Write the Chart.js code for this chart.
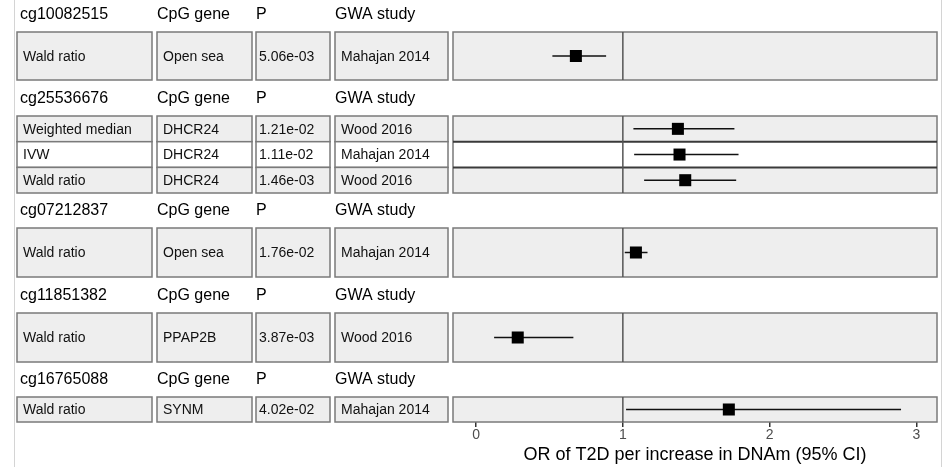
<!DOCTYPE html>
<html><head><meta charset="utf-8">
<script src="https://cdn.jsdelivr.net/npm/chart.js@4"></script>
<style>html,body{margin:0;padding:0;background:#fff}#wrap{width:943px;height:467px;position:relative}</style>
</head><body><div id="wrap"><canvas id="c"></canvas></div>
<script>
// ---- data ----
const snps = ['cg10082515','cg25536676','cg07212837','cg11851382','cg16765088'];
const rowGroup = [0, 1, 1, 1, 2, 3, 4];
const methods = ['Wald ratio','Weighted median','IVW','Wald ratio','Wald ratio','Wald ratio','Wald ratio'];
const genes = ['Open sea','DHCR24','DHCR24','DHCR24','Open sea','PPAP2B','SYNM'];
const pvals = ['5.06e-03','1.21e-02','1.11e-02','1.46e-03','1.76e-02','3.87e-03','4.02e-02'];
const studies = ['Mahajan 2014','Wood 2016','Mahajan 2014','Wood 2016','Mahajan 2014','Wood 2016','Mahajan 2014'];
const orEst  = [0.68, 1.375, 1.386, 1.425, 1.089, 0.284, 1.722];
const orLow  = [0.52, 1.072, 1.077, 1.145, 1.013, 0.123, 1.022];
const orHigh = [0.886, 1.76, 1.788, 1.772, 1.168, 0.663, 2.895];
const xTicks = [0, 1, 2, 3];
const headerTitles = ['CpG gene', 'P', 'GWA study'];
const xTitle = 'OR of T2D per increase in DNAm (95% CI)';

// ---- layout (styles only) ----
const headerHeights = [32, 36, 35, 36, 35];
const rowHeights = [48, 25.7, 25.7, 25.6, 49, 49, 25];
const colEdges = [[17,152],[157,252],[256,330],[335,448]];

let yCursor = 0; const rowTop = [], rowBot = [], groupTop = [], groupBot = [], rowIdxInGroup = [];
for (let g = 0; g < snps.length; g++) {
  yCursor += headerHeights[g]; groupTop[g] = yCursor; let k = 0;
  rowGroup.forEach((gg, i) => { if (gg === g) { rowTop[i] = yCursor; yCursor += rowHeights[i]; rowBot[i] = yCursor; rowIdxInGroup[i] = k++; } });
  groupBot[g] = yCursor;
}
const yTotal = yCursor;

const forest = {
  id: 'forest',
  beforeDraw(chart) {
    const ctx = chart.ctx;
    ctx.save();
    ctx.strokeStyle = '#d4d4d4'; ctx.lineWidth = 1;
    ctx.beginPath(); ctx.moveTo(14.5, 0); ctx.lineTo(14.5, 467); ctx.moveTo(941.5, 0); ctx.lineTo(941.5, 467); ctx.stroke();
    ctx.restore();
  },
  beforeDatasetsDraw(chart) {
    const ctx = chart.ctx, xs = chart.scales.x, ys = chart.scales.y, ca = chart.chartArea;
    ctx.save();
    // headers
    ctx.fillStyle = '#000'; ctx.font = '16px "Liberation Sans", Arial, sans-serif'; ctx.textBaseline = 'middle'; ctx.textAlign = 'left';
    snps.forEach((s, g) => {
      const yy = ys.getPixelForValue(groupTop[g]) - 17;
      ctx.fillText(s, colEdges[0][0] + 3, yy);
      headerTitles.forEach((t, j) => ctx.fillText(t, colEdges[j + 1][0], yy));
    });
    // cells
    rowGroup.forEach((g, i) => {
      const t = ys.getPixelForValue(rowTop[i]), b = ys.getPixelForValue(rowBot[i]);
      const fill = rowIdxInGroup[i] % 2 === 1 ? '#ffffff' : '#eeeeee';
      const texts = [methods[i], genes[i], pvals[i], studies[i]];
      colEdges.forEach((c, j) => {
        ctx.fillStyle = fill; ctx.fillRect(c[0], t, c[1] - c[0], b - t);
        ctx.strokeStyle = '#7a7a7a'; ctx.lineWidth = 1.5; ctx.strokeRect(c[0], t, c[1] - c[0], b - t);
        ctx.fillStyle = '#111'; ctx.font = '14px "Liberation Sans", Arial, sans-serif';
        ctx.fillText(texts[j], c[0] + (j === 2 ? 3 : 6), (t + b) / 2 + 1);
      });
      ctx.fillStyle = fill; ctx.fillRect(ca.left, t, ca.right - ca.left, b - t);
    });
    // plot column borders
    snps.forEach((s, g) => {
      const t = ys.getPixelForValue(groupTop[g]), b = ys.getPixelForValue(groupBot[g]);
      ctx.strokeStyle = '#7a7a7a'; ctx.lineWidth = 1.5; ctx.strokeRect(ca.left, t, ca.right - ca.left, b - t);
      rowGroup.forEach((gg, i) => {
        if (gg === g && rowIdxInGroup[i] > 0) {
          const yy = ys.getPixelForValue(rowTop[i]);
          ctx.strokeStyle = '#3a3a3a'; ctx.lineWidth = 2;
          ctx.beginPath(); ctx.moveTo(ca.left, yy); ctx.lineTo(ca.right, yy); ctx.stroke();
        }
      });
      const x1 = xs.getPixelForValue(1);
      ctx.strokeStyle = '#555'; ctx.lineWidth = 1.5;
      ctx.beginPath(); ctx.moveTo(x1, t); ctx.lineTo(x1, b); ctx.stroke();
    });
    // error bars
    ctx.strokeStyle = '#111'; ctx.lineWidth = 1.5;
    rowGroup.forEach((g, i) => {
      const yy = ys.getPixelForValue((rowTop[i] + rowBot[i]) / 2);
      ctx.beginPath(); ctx.moveTo(xs.getPixelForValue(orLow[i]), yy); ctx.lineTo(xs.getPixelForValue(orHigh[i]), yy); ctx.stroke();
    });
    ctx.restore();
  }
};

new Chart(document.getElementById('c'), {
  type: 'scatter',
  data: { datasets: [{
    data: orEst.map((v, i) => ({ x: v, y: (rowTop[i] + rowBot[i]) / 2 })),
    pointStyle: 'rect', pointRadius: 8.5, backgroundColor: '#000', borderWidth: 0, clip: false
  }]},
  options: {
    responsive: true, maintainAspectRatio: false, animation: false,
    layout: { autoPadding: false, padding: { left: 453, right: 6, top: 0, bottom: 0 } },
    plugins: { legend: { display: false }, tooltip: { enabled: false } },
    scales: {
      y: { type: 'linear', display: false, min: 0, max: yTotal, reverse: true },
      x: {
        type: 'linear', min: -0.157, max: 3.14,
        afterBuildTicks: (s) => { s.ticks = xTicks.map(v => ({ value: v })); },
        afterFit: (s) => { s.height = 467 - yTotal; },
        grid: { drawOnChartArea: false, drawTicks: true, tickLength: 5, color: '#333', lineWidth: 1.5 },
        border: { display: false },
        ticks: { color: '#4d4d4d', font: { family: '"Liberation Sans", Arial, sans-serif', size: 14 }, padding: 0, maxRotation: 0 },
        title: { display: true, text: xTitle, color: '#000', font: { family: '"Liberation Sans", Arial, sans-serif', size: 18 }, padding: { top: 1, bottom: 1 } }
      }
    }
  },
  plugins: [forest]
});
</script></body></html>
